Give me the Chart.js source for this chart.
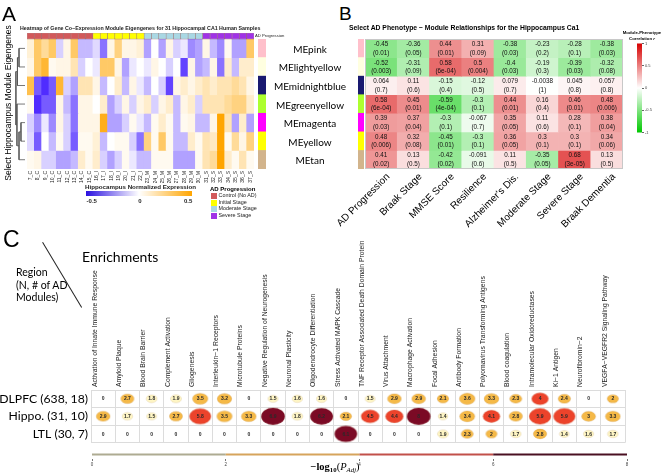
<!DOCTYPE html>
<html><head><meta charset="utf-8">
<script src="https://cdn.jsdelivr.net/npm/chart.js@4.4.1/dist/chart.umd.min.js"></script>
<style>
html,body{margin:0;padding:0;background:#fff;}
#wrap{position:relative;width:666px;height:475px;overflow:hidden;font-family:"Liberation Sans",Arial,sans-serif;color:#000;background:#fff;}
#wrap canvas{position:absolute;}
.t{position:absolute;white-space:nowrap;line-height:1;}
.t sub{font-size:65%;vertical-align:-0.35em;line-height:0;}
</style></head><body><div id="wrap"></div>
<script>
// ---------------- Panel A data ----------------
const sampleLabels = ['7_C','8_C','9_C','10_C','11_C','12_C','13_C','14_C','15_C','16_I','17_I','18_I','19_I','20_I','21_I','22_I','23_M','24_M','25_M','26_M','27_M','28_M','29_M','30_M','31_S','32_S','33_S','34_S','35_S','36_S','37_S'];
const sampleStage = ['C','C','C','C','C','C','C','C','C','I','I','I','I','I','I','I','M','M','M','M','M','M','M','M','S','S','S','S','S','S','S'];
const modules = ['MEpink','MElightyellow','MEmidnightblue','MEgreenyellow','MEmagenta','MEyellow','MEtan'];
const moduleColours = ['#ffc0cb','#ffffe0','#191970','#adff2f','#ff00ff','#ffff00','#d2b48c'];
const exprPink         = [0.08,0.3,0.2,0.3,-0.1,0.05,0.3,-0.15,-0.15,-0.08,-0.3,0.05,0.25,0.05,0.05,0.08,-0.2,0,-0.2,0.05,-0.1,-0.05,-0.25,-0.2,0.05,-0.15,-0.25,0.03,-0.2,-0.2,0.3];
const exprLightyellow  = [0.05,0.3,0.4,0.03,0.05,0.05,0.15,-0.1,0,-0.05,0.3,0.3,0.05,-0.2,-0.05,0,-0.05,0.05,0,-0.1,0,-0.4,0.05,-0.2,-0.15,0.05,-0.3,0.1,-0.15,0.1,0.1];
const exprMidnightblue = [0.35,-0.35,-0.45,-0.35,0.4,-0.1,-0.2,0.15,0.15,0.05,-0.15,0,0.1,-0.15,0.05,-0.05,-0.15,0,-0.1,-0.4,0.05,0.1,0.05,0.1,0.15,0.1,0.15,0.15,0.2,0.15,0.05];
const exprGreenyellow  = [0.03,-0.45,-0.35,-0.35,0.05,-0.15,-0.3,0.05,0.05,0,0.1,-0.2,-0.1,0.05,-0.1,0.05,0.1,-0.1,0.05,0.1,-0.15,0.05,0.1,-0.1,0.15,0.15,0.15,0.2,0.25,0.25,0.1];
const exprMagenta      = [-0.1,-0.25,-0.05,-0.25,0.05,-0.1,-0.3,0.05,0.05,0.05,0.45,-0.2,-0.2,-0.1,0.03,-0.05,-0.15,0.03,0.1,0.03,-0.15,0.03,0.05,-0.15,-0.15,0.05,0.5,0.15,-0.2,0.1,-0.2];
const exprYellow       = [-0.08,-0.35,0,-0.15,0.03,-0.1,-0.35,0.03,0.03,0.08,-0.15,0,0.03,0.03,-0.1,-0.3,0.25,0.03,0.3,0.03,-0.15,-0.15,0.1,0.03,0.15,0.12,0.5,0.03,0.2,0.05,0.25];
const exprTan          = [0.03,0.05,-0.1,-0.1,-0.2,-0.2,-0.15,0.1,0.03,0.1,-0.1,-0.2,-0.1,0.03,-0.05,-0.15,-0.15,0.03,0.03,0.03,-0.2,-0.2,-0.2,0.03,0.15,0.2,0.5,0.1,0.03,0.15,0.03];
const exprRows = [exprPink,exprLightyellow,exprMidnightblue,exprGreenyellow,exprMagenta,exprYellow,exprTan];
// dendrogram (hclust style: negative = leaf index, positive = earlier merge)
const dendroMerge  = [[-1,-2],[1,-3],[-5,-6],[3,-7],[-4,4],[2,5]];
const dendroHeight = [0.46,0.58,0.31,0.46,0.62,0.7];
const stageNames = ['Control (No AD)','Initial Stage','Moderate Stage','Severe Stage'];
const stageKeys  = ['C','I','M','S'];
const exprTicks = [-0.5,0,0.5];

// ---------------- Panel B data ----------------
const phenotypes = ['AD Progression','Braak Stage','MMSE Score','Resilience',"Alzheimer's Dis.",'Moderate Stage','Severe Stage','Braak Dementia'];
const corrPink         = [-0.45,-0.36,0.44,0.31,-0.38,-0.23,-0.28,-0.38];
const corrLightyellow  = [-0.52,-0.31,0.58,0.5,-0.4,-0.19,-0.39,-0.32];
const corrMidnightblue = [0.064,0.11,-0.15,-0.12,0.079,-0.0038,0.045,0.057];
const corrGreenyellow  = [0.58,0.45,-0.59,-0.3,0.44,0.16,0.46,0.48];
const corrMagenta      = [0.39,0.37,-0.3,-0.067,0.35,0.11,0.28,0.38];
const corrYellow       = [0.48,0.32,-0.45,-0.3,0.36,0.3,0.3,0.34];
const corrTan          = [0.41,0.13,-0.42,-0.091,0.11,-0.35,0.68,0.13];
const pPink         = ['0.01','0.05','0.01','0.09','0.03','0.2','0.1','0.03'];
const pLightyellow  = ['0.003','0.09','6e-04','0.004','0.03','0.3','0.03','0.08'];
const pMidnightblue = ['0.7','0.6','0.4','0.5','0.7','1','0.8','0.8'];
const pGreenyellow  = ['6e-04','0.01','4e-04','0.1','0.01','0.4','0.01','0.006'];
const pMagenta      = ['0.03','0.04','0.1','0.7','0.05','0.6','0.1','0.04'];
const pYellow       = ['0.006','0.08','0.01','0.1','0.05','0.1','0.1','0.06'];
const pTan          = ['0.02','0.5','0.02','0.6','0.5','0.05','3e-05','0.5'];
const corrRows = [corrPink,corrLightyellow,corrMidnightblue,corrGreenyellow,corrMagenta,corrYellow,corrTan];
const pRows = [pPink,pLightyellow,pMidnightblue,pGreenyellow,pMagenta,pYellow,pTan];
const corrTicks = [-1,-0.5,0,0.5,1];

// ---------------- Panel C data ----------------
const enrichments = ['Activation of Innate Immune Response','Amyloid Plaque','Blood Brain Barrier','Complement Activation','Gliogenesis','Interleukin\u22121 Receptors','Microtubule Proteins','Negative Regulation of Neurogenesis','Neuronal Plasticity','Oligodendrocyte Differentiation','Stress Activated MAPK Cascade','TNF Receptor Associated Death Domain Protein','Virus Attachment','Macrophage Activation','Focal Adhesion','Antibody Formation','Polyomavirus Transforming Antigens','Blood coagulation','Intramolecular Oxidoreductases','Ki\u22121 Antigen','Neurofibromin\u22122','VEGFA\u2212VEGFR2 Signaling Pathway'];
const regions = ['DLPFC (638, 18)','Hippo. (31, 10)','LTL (30, 7)'];
const dlpfcValues = [0,2.7,1.8,1.9,3.5,3.2,0,1.5,1.6,1.6,0,1.5,2.9,2.9,2.1,3.6,3.3,2.3,4,2.4,0,2];
const hippoValues = [2.9,1.7,1.5,2.7,5.8,3.5,3.3,6.9,1.8,6.2,2.1,4.5,4.4,8,1.4,3.4,4.1,2.8,5.9,5.9,3,3.3];
const ltlValues   = [0,0,0,0,0,0,0,0,0,0,6.1,0,0,0,1.9,2.3,2,1.7,2.8,1.4,1.6,1.7];
const regionValues = [dlpfcValues,hippoValues,ltlValues];
const scaleBreaks = [0,2,4,6,8];

// ---------------- styles ----------------
const stageColours = {C:'#d2595b', I:'#ffff00', M:'#a9d8e4', S:'#a033e6'};
const bubbleColours = ['#fff6c4','#f5b947','#ec432b','#7b0a25'];
const scaleColours = ['#aeab92','#d6a45c','#c2504a','#4a1022'];
Chart.defaults.font.family = '"Liberation Sans", Arial, sans-serif';
Chart.defaults.color = '#000';

function rgb(r,g,b){return 'rgb('+Math.round(r)+','+Math.round(g)+','+Math.round(b)+')';}
function heatColor(v){
  const t = Math.max(-1, Math.min(1, v/0.5));
  if (t < 0) { const a=-t; return rgb(255+a*(60-255), 255+a*(20-255), 255); }
  return rgb(255, 255+t*(165-255), 255-t*255);
}
function corrColor(r){
  if (r >= 0) return rgb(255-r*(255-215), 255-r*255, 255-r*255);
  const a = -r; return rgb(255-a*255, 255-a*(255-200), 255-a*255);
}
function bubbleColor(v){ return bubbleColours[Math.min(3, Math.floor(v/2))]; }
const ellCache = {};
function bubbleImage(v){
  if (ellCache[v]) return ellCache[v];
  const rx = 3 + 1.35*Math.min(v, 6.5), ry = rx*0.72;
  const c = document.createElement('canvas');
  c.width = Math.ceil(rx*2)+2; c.height = Math.ceil(ry*2)+2;
  const g = c.getContext('2d');
  g.beginPath(); g.ellipse(c.width/2, c.height/2, rx, ry, 0, 0, Math.PI*2);
  g.fillStyle = bubbleColor(v); g.fill();
  g.lineWidth = 0.6; g.strokeStyle = 'rgba(120,60,0,0.18)'; g.stroke();
  ellCache[v] = c; return c;
}

const wrap = document.getElementById('wrap');
function mk(left, top, w, h){
  const c = document.createElement('canvas');
  c.width = w; c.height = h; c.style.left = left+'px'; c.style.top = top+'px';
  c.style.width = w+'px'; c.style.height = h+'px';
  wrap.appendChild(c); return c;
}
function T(html, x, y, size, o){
  o = o || {};
  const d = document.createElement('div'); d.className = 't';
  d.innerHTML = html;
  d.style.left = x+'px'; d.style.top = y+'px'; d.style.fontSize = size+'px';
  if (o.w) d.style.fontWeight = o.w;
  if (o.f) d.style.fontFamily = o.f;
  if (o.c) d.style.color = o.c;
  const ax = o.a === 'c' ? '-50%' : (o.a === 'r' ? '-100%' : '0');
  d.style.transform = 'translate('+ax+',-50%)' + (o.rot ? ' rotate('+o.rot+'deg)' : '');
  if (o.rot) d.style.transformOrigin = '50% 50%';
  wrap.appendChild(d); return d;
}
function opts(extra){
  return Object.assign({responsive:false, maintainAspectRatio:false, animation:false, events:[],
    plugins:{legend:{display:false}, tooltip:{enabled:false}, title:{display:false}}}, extra);
}

// ---------------- Panel A: heatmap ----------------
const annH = 0.33;
const nRows = modules.length;
new Chart(mk(20, 33, 241, 150), {
  type:'bar',
  data:{labels: sampleLabels, datasets: [
    {data: sampleLabels.map(()=>[-annH,0]), backgroundColor: sampleStage.map(s=>stageColours[s]),
     borderColor:'rgba(90,20,20,0.45)', borderWidth:0.6, borderSkipped:false},
    ...modules.map((m,i)=>({data: sampleLabels.map(()=>[i,i+1]), backgroundColor: exprRows[i].map(heatColor), borderWidth:0}))
  ]},
  options: opts({
    layout:{padding:{left:7,right:7,top:0,bottom:0}},
    datasets:{bar:{barPercentage:1, categoryPercentage:1}},
    scales:{
      x:{stacked:true, grid:{display:false, drawTicks:false}, border:{display:false},
         ticks:{font:{size:5}, color:'#222', minRotation:90, maxRotation:90, autoSkip:false, padding:2},
         afterFit:s=>{s.height=14;}},
      y:{type:'linear', min:-annH, max:nRows, reverse:true, display:false, stacked:false}
    }
  })
});

// dendrogram
(function(){
  const nodeY = [], nodeH = [];
  const pos = k => k < 0 ? {y:(-k-1)+0.5, h:0} : {y:nodeY[k-1], h:nodeH[k-1]};
  const ds = dendroMerge.map((m,i)=>{
    const a = pos(m[0]), b = pos(m[1]), h = dendroHeight[i];
    nodeY.push((a.y+b.y)/2); nodeH.push(h);
    return {data:[{x:a.h,y:a.y},{x:h,y:a.y},{x:h,y:b.y},{x:b.h,y:b.y}], showLine:true, pointRadius:0,
      borderColor:'#555', borderWidth:0.8, fill:false, tension:0};
  });
  new Chart(mk(12, 33, 13, 136), {type:'scatter', data:{datasets:ds},
    options: opts({layout:{padding:0}, scales:{
      x:{type:'linear', min:0, max:1, reverse:true, display:false},
      y:{type:'linear', min:-annH, max:nRows, reverse:true, display:false}}})});
})();

// module colour strips (A right side, B left side)
function strip(left, w){
  new Chart(mk(left, 39, w, 130), {type:'bar',
    data:{labels: modules, datasets:[{data: modules.map(()=>1), backgroundColor: moduleColours, borderWidth:0}]},
    options: opts({indexAxis:'y', layout:{padding:0}, datasets:{bar:{barPercentage:1, categoryPercentage:1}},
      scales:{x:{min:0, max:1, display:false}, y:{display:false}}})});
}
strip(258, 8);
strip(358, 6);

// expression legend gradient
new Chart(mk(76, 189, 126, 16), {type:'bar',
  data:{labels:['e'], datasets:[{data:[[-0.56,0.54]], borderWidth:0,
    backgroundColor: c=>{const a=c.chart.chartArea; if(!a) return '#fff';
      const g=c.chart.ctx.createLinearGradient(a.left,0,a.right,0);
      g.addColorStop(0,'#2a10e0'); g.addColorStop(0.5,'#ffffff'); g.addColorStop(1,'#ffa500'); return g;}}]},
  options: opts({indexAxis:'y', layout:{padding:{left:10,right:10,top:2,bottom:0}},
    datasets:{bar:{barPercentage:1, categoryPercentage:1}},
    scales:{
      x:{type:'linear', min:-0.56, max:0.54, grid:{display:false, drawTicks:false}, border:{display:false},
         afterBuildTicks:s=>{s.ticks = exprTicks.map(v=>({value:v}));},
         ticks:{font:{size:6, weight:'bold'}, color:'#222', padding:2, callback:v=>String(v)},
         afterFit:s=>{s.height=9;}},
      y:{display:false}}})});

// ---------------- Panel B: correlation table ----------------
const cellText = {id:'cellText', afterDatasetsDraw(chart){
  const ctx = chart.ctx, a = chart.chartArea;
  ctx.save();
  ctx.fillStyle = '#111'; ctx.textAlign = 'center'; ctx.textBaseline = 'middle';
  ctx.font = '6.3px "Liberation Sans", Arial';
  chart.data.datasets.forEach((ds,i)=>{
    chart.getDatasetMeta(i).data.forEach((el,j)=>{
      const p = el.getCenterPoint();
      ctx.fillText(String(corrRows[i][j]), p.x, p.y-4);
      ctx.fillText('('+pRows[i][j]+')', p.x, p.y+4.5);
    });
  });
  ctx.strokeStyle = '#c8c8c8'; ctx.lineWidth = 1;
  ctx.strokeRect(a.left+0.5, a.top+0.5, a.width-1, a.height-1);
  ctx.restore();
}};
new Chart(mk(320, 39, 310, 200), {type:'bar',
  data:{labels: phenotypes, datasets: modules.map((m,i)=>({data: phenotypes.map(()=>[i,i+1]), backgroundColor: corrRows[i].map(corrColor), borderWidth:0}))},
  options: opts({layout:{padding:{left:45,right:7,top:0,bottom:0}},
    datasets:{bar:{barPercentage:1, categoryPercentage:1}},
    scales:{
      x:{stacked:true, grid:{display:false, drawTicks:false}, border:{display:false},
         ticks:{font:{size:10}, color:'#000', minRotation:45, maxRotation:45, autoSkip:false, padding:2, labelOffset:7},
         afterFit:s=>{s.height=70;}},
      y:{type:'linear', min:0, max:nRows, reverse:true, display:false, stacked:false}}}),
  plugins:[cellText]});

// correlation colour key
new Chart(mk(630, 40, 32, 96), {type:'bar',
  data:{labels:['r'], datasets:[{data:[[-1,1]], borderWidth:0,
    backgroundColor: c=>{const a=c.chart.chartArea; if(!a) return '#fff';
      const g=c.chart.ctx.createLinearGradient(0,a.top,0,a.bottom);
      g.addColorStop(0,corrColor(1)); g.addColorStop(0.5,'#ffffff'); g.addColorStop(1,corrColor(-1)); return g;}}]},
  options: opts({layout:{padding:{left:7,right:0,top:3,bottom:3}},
    datasets:{bar:{barPercentage:1, categoryPercentage:1}},
    scales:{x:{display:false},
      y:{position:'right', min:-1, max:1, grid:{drawOnChartArea:false, tickLength:2, color:'#666'}, border:{display:false},
         afterBuildTicks:s=>{s.ticks = corrTicks.map(v=>({value:v}));},
         ticks:{font:{size:4}, color:'#444', padding:1, callback:v=>String(v)},
         afterFit:s=>{s.width=20;}}}})});

// ---------------- Panel C: enrichment bubbles ----------------
const bubbleText = {id:'bubbleText', afterDatasetsDraw(chart){
  const ctx = chart.ctx; ctx.save();
  ctx.fillStyle = '#2a2a2a'; ctx.textAlign = 'center'; ctx.textBaseline = 'middle';
  ctx.font = 'bold 5px "Liberation Sans", Arial';
  chart.data.datasets.forEach((ds,i)=>{
    chart.getDatasetMeta(i).data.forEach((el,j)=>{
      ctx.fillText(String(regionValues[i][j]), el.x, el.y+0.3);
    });
  });
  ctx.restore();
}};
new Chart(mk(0, 228, 630, 225), {type:'bubble',
  data:{datasets: regions.map((reg,ri)=>({
    data: enrichments.map((e,ci)=>({x:e, y:reg, v:regionValues[ri][ci]})),
    pointStyle: c => (c.raw ? bubbleImage(c.raw.v) : 'circle'),
    radius: c => (c.raw && c.raw.v > 0 ? 5 : 0),
    backgroundColor:'rgba(0,0,0,0)', borderWidth:0}))},
  options: opts({layout:{padding:{left:0,right:3,top:0,bottom:0}},
    scales:{
      x:{type:'category', labels: enrichments, position:'top', offset:true,
         grid:{offset:true, color:'#dcdcdc', drawTicks:false}, border:{color:'#dcdcdc'},
         ticks:{font:{size:6.8}, color:'#222', minRotation:90, maxRotation:90, autoSkip:false, padding:3},
         afterFit:s=>{s.height=162;}},
      y:{type:'category', labels: regions, offset:true,
         grid:{offset:true, color:'#dcdcdc', drawTicks:false}, border:{color:'#dcdcdc'},
         ticks:{font:{size:12.2, family:'Lato, "Liberation Sans", sans-serif'}, color:'#000', padding:3, autoSkip:false},
         afterFit:s=>{s.width=91;}}}}),
  plugins:[bubbleText]});

// colour scale line for -log10(P)
new Chart(mk(80, 448, 560, 20), {type:'line',
  data:{datasets:[{data: scaleBreaks.map(b=>({x:b, y:0})), borderWidth:2, pointRadius:0,
    segment:{borderColor: s => scaleColours[s.p0DataIndex]}}]},
  options: opts({layout:{padding:{left:12,right:13,top:2,bottom:0}},
    scales:{
      x:{type:'linear', min:0, max:8, grid:{drawOnChartArea:false, tickLength:2, color:'#777'}, border:{display:false},
         afterBuildTicks:s=>{s.ticks = scaleBreaks.map(v=>({value:v}));},
         ticks:{font:{size:4.5}, color:'#444', padding:1, callback:v=>String(v)},
         afterFit:s=>{s.height=9;}},
      y:{display:false, min:-1, max:1}}})});

// ---------------- text ----------------
T('A', 2, 13, 21);
T('B', 339, 13, 19);
T('C', 3, 239, 23);
T('Heatmap of Gene Co\u2212Expression Module Eigengenes for 31 Hippocampal CA1 Human Samples', 20, 29, 5.3, {w:'bold', c:'#222'});
T('AD Progression', 255, 35.5, 4.2, {c:'#222'});
T('Select Hippocampus Module Eigengenes', 8, 103, 8.5, {a:'c', rot:-90});
modules.forEach((m,i)=>T(m, 310, 39 + 130/nRows*(i+0.5) + 0.5, 10, {a:'c', f:'Lato, "Liberation Sans", sans-serif'}));
T('Hippocampus Normalized Expression', 85, 187, 6.2, {w:'bold', c:'#222'});
T('AD Progression', 210, 188.5, 6, {w:'bold'});
stageNames.forEach((n,i)=>{
  const y = 196 + i*6.6;
  const sq = T('', 211, y, 6); sq.style.width='6px'; sq.style.height='6px'; sq.style.background = stageColours[stageKeys[i]];
  T(n, 218.5, y, 5.4, {c:'#222'});
});
T('Select AD Phenotype \u2212 Module Relationships for the Hippocampus Ca1', 349, 28, 6.8, {w:'bold'});
T('Module-Phenotype', 642, 33, 4.3, {w:'bold', a:'c'});
T('Correlation <i>r</i>', 642, 38.5, 4.3, {w:'bold', a:'c'});
T('Enrichments', 82, 257, 14, {f:'Lato, "Liberation Sans", sans-serif'});
T('Region', 16, 272, 10.5, {f:'Lato, "Liberation Sans", sans-serif'});
T('(N, # of AD', 16, 285, 10.5, {f:'Lato, "Liberation Sans", sans-serif'});
T('Modules)', 16, 297, 10.5, {f:'Lato, "Liberation Sans", sans-serif'});
(function(){
  const x1=43,y1=242,x2=82,y2=307, L=Math.hypot(x2-x1,y2-y1), ang=Math.atan2(y2-y1,x2-x1)*180/Math.PI;
  const d=document.createElement('div'); d.style.position='absolute'; d.style.left=x1+'px'; d.style.top=y1+'px';
  d.style.width=L+'px'; d.style.height='0'; d.style.borderTop='1px solid #222'; d.style.transformOrigin='0 0';
  d.style.transform='rotate('+ang+'deg)'; wrap.appendChild(d);
})();
T('<b>\u2212log<sub>10</sub></b>(<i>P</i><sub><i>Adj</i></sub>)', 335, 467, 10.5, {a:'c', f:'"Liberation Serif", "DejaVu Serif", serif'});
</script></body></html>
